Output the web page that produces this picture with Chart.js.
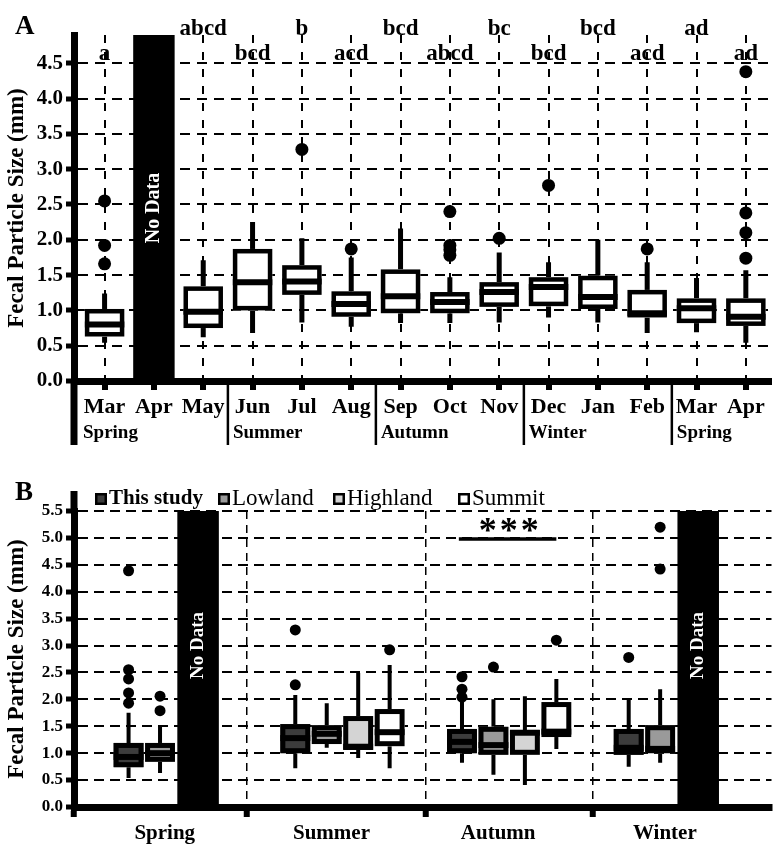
<!DOCTYPE html>
<html>
<head>
  <title>Fecal Particle Size</title>
  <meta charset="utf-8" />
  <script src="https://cdn.jsdelivr.net/npm/chart.js"></script>
  <style>
    body { margin: 0; background: #fff; }
    #wrap { position: relative; width: 777px; height: 846px; }
    #chartA { position: absolute; left: 0; top: 0; }
    #chartB { position: absolute; left: 0; top: 460px; }
  </style>
</head>
<body>
<div id="wrap">
  <canvas id="chartA" width="777" height="460"></canvas>
  <canvas id="chartB" width="777" height="386"></canvas>
</div>
<script>
// ---------- panel A : monthly ----------
const monthsA = ['Mar', 'Apr', 'May', 'Jun', 'Jul', 'Aug', 'Sep', 'Oct', 'Nov', 'Dec', 'Jan', 'Feb', 'Mar', 'Apr'];
const seasonsA = ['Spring', 'Summer', 'Autumn', 'Winter', 'Spring'];
const seasonStartA = [0, 3, 6, 9, 12];
const lettersA = ['a', '', 'abcd', 'bcd', 'b', 'acd', 'bcd', 'abcd', 'bc', 'bcd', 'bcd', 'acd', 'ad', 'ad'];
const lowA  = [0.54, null, 0.62, 0.68, 0.83, 0.77, 0.82, 0.82, 0.83, 0.90, 0.83, 0.68, 0.69, 0.54];
const q1A   = [0.63, null, 0.75, 1.00, 1.22, 0.91, 0.96, 0.96, 1.05, 1.06, 1.02, 0.90, 0.82, 0.78];
const medA  = [0.80, null, 0.98, 1.40, 1.41, 1.09, 1.20, 1.12, 1.26, 1.33, 1.19, 0.96, 1.03, 0.91];
const q3A   = [1.02, null, 1.34, 1.87, 1.64, 1.27, 1.58, 1.26, 1.40, 1.47, 1.49, 1.29, 1.17, 1.17];
const highA = [1.24, null, 1.71, 2.25, 2.02, 1.75, 2.16, 1.47, 1.82, 1.68, 2.00, 1.68, 1.46, 1.57];
const outA  = [[1.66, 1.92, 2.55], [], [], [], [3.28], [1.87], [], [1.78, 1.86, 1.92, 2.40], [2.02], [2.77], [], [1.87], [], [1.74, 2.10, 2.38, 4.38]];
const noDataA = [1];
const yTicksA = [0, 0.5, 1, 1.5, 2, 2.5, 3, 3.5, 4, 4.5];

// ---------- panel B : seasonal, by site ----------
const seasonsB = ['Spring', 'Summer', 'Autumn', 'Winter'];
const groupsB = ['This study', 'Lowland', 'Highland', 'Summit'];
// rows = group, columns = season
const lowB  = [[0.54, 0.72, 0.82, 0.75], [0.63, 1.10, 0.60, 0.82], [null, 0.91, 0.41, null], [null, 0.72, 1.08, null]];
const q1B   = [[0.74, 1.00, 1.00, 0.97], [0.84, 1.17, 0.97, 1.00], [null, 1.06, 0.97, null], [null, 1.13, 1.30, null]];
const medB  = [[0.93, 1.28, 1.21, 1.10], [1.00, 1.36, 1.15, 1.08], [null, 1.12, 1.38, null], [null, 1.39, 1.40, null]];
const q3B   = [[1.19, 1.54, 1.45, 1.45], [1.19, 1.52, 1.49, 1.52], [null, 1.69, 1.43, null], [null, 1.82, 1.95, null]];
const highB = [[1.75, 2.08, 1.95, 2.00], [1.50, 1.93, 2.00, 2.19], [null, 2.49, 2.06, null], [null, 2.64, 2.38, null]];
const outB  = [
  [[1.93, 2.12, 2.38, 2.55, 4.39], [2.27, 3.29], [2.04, 2.19, 2.42], [2.78]],
  [[1.79, 2.06], [], [2.60], [4.42, 5.20]],
  [[], [], [], []],
  [[], [2.92], [3.10], []]
];
const noDataB = [0, 3];
const sigLevelB = 4.98;
const yTicksB = [0, 0.5, 1, 1.5, 2, 2.5, 3, 3.5, 4, 4.5, 5, 5.5];

const SERIF = '"Liberation Serif", "Times New Roman", serif';
const fillsB = ['#3c3c3c', '#9a9a9a', '#d4d4d4', '#ffffff'];
const GROUP_STEP = 5.3;
Chart.defaults.color = '#000';

function drawBox(ctx, xs, ys, x, w, st, fill, lw) {
  const px = xs.getPixelForValue(x);
  const half = (xs.getPixelForValue(x + w / 2) - xs.getPixelForValue(x - w / 2)) / 2;
  const [lo, q1, med, q3, hi] = st.map(v => ys.getPixelForValue(v));
  ctx.save();
  ctx.strokeStyle = '#000';
  ctx.lineCap = 'butt';
  ctx.lineWidth = lw.whisker;
  ctx.beginPath();
  ctx.moveTo(px, q3); ctx.lineTo(px, hi);
  ctx.moveTo(px, q1); ctx.lineTo(px, lo);
  ctx.stroke();
  ctx.fillStyle = fill;
  ctx.fillRect(px - half, q3, half * 2, q1 - q3);
  ctx.lineWidth = lw.border;
  const b = lw.border / 2;
  ctx.strokeRect(px - half + b, q3 + b, half * 2 - lw.border, Math.max(q1 - q3 - lw.border, 0.5));
  ctx.lineWidth = lw.median;
  ctx.beginPath();
  ctx.moveTo(px - half, med); ctx.lineTo(px + half, med);
  ctx.stroke();
  ctx.restore();
}

function drawNoData(ctx, xs, ys, x0, x1, top, textY, size) {
  const left = xs.getPixelForValue(x0), right = xs.getPixelForValue(x1);
  const yt = ys.getPixelForValue(top), yb = ys.getPixelForValue(0);
  ctx.save();
  ctx.fillStyle = '#000';
  ctx.fillRect(left, yt, right - left, yb - yt);
  ctx.translate((left + right) / 2, ys.getPixelForValue(textY));
  ctx.rotate(-Math.PI / 2);
  ctx.fillStyle = '#fff';
  ctx.font = `bold ${size}px ${SERIF}`;
  ctx.textAlign = 'center';
  ctx.textBaseline = 'middle';
  ctx.fillText('No Data', 0, 0);
  ctx.restore();
}

// ---------- chart A ----------
const pointsA = [];
outA.forEach((arr, i) => arr.forEach(v => pointsA.push({ x: i, y: v })));

const panelAPlugin = {
  id: 'panelA',
  beforeDatasetsDraw(chart) {
    const { ctx, scales: { x, y } } = chart;
    noDataA.forEach(i => drawNoData(ctx, x, y, i - 0.42, i + 0.42, y.max, 2.45, 20));
    monthsA.forEach((m, i) => {
      if (q1A[i] == null) return;
      drawBox(ctx, x, y, i, 0.8, [lowA[i], q1A[i], medA[i], q3A[i], highA[i]], '#fff',
        { border: 4.5, median: 6, whisker: 5 });
    });
  },
  afterDraw(chart) {
    const { ctx, scales: { x }, chartArea } = chart;
    ctx.save();
    ctx.fillStyle = '#000';
    ctx.textAlign = 'center';
    ctx.font = `bold 23px ${SERIF}`;
    lettersA.forEach((t, i) => {
      if (!t) return;
      const high = i > 0 && i % 2 === 0;
      ctx.fillText(t, x.getPixelForValue(i), chartArea.top + (high ? 0 : 25));
    });
    ctx.strokeStyle = '#000';
    ctx.textAlign = 'left';
    ctx.font = `bold 19px ${SERIF}`;
    const yb = chartArea.bottom;
    seasonStartA.forEach((s, k) => {
      const first = k === 0;
      const px = first ? chartArea.left : x.getPixelForValue(s - 0.5);
      ctx.lineWidth = first ? 7 : 2.5;
      ctx.beginPath();
      ctx.moveTo(px, yb);
      ctx.lineTo(px, yb + 64);
      ctx.stroke();
      ctx.fillText(seasonsA[k], px + (first ? 9 : 5), yb + 57);
    });
    ctx.font = `bold 27px ${SERIF}`;
    ctx.fillText('A', 15, 34);
    ctx.restore();
  }
};

new Chart(document.getElementById('chartA'), {
  type: 'scatter',
  data: {
    datasets: [{
      data: pointsA,
      backgroundColor: '#000',
      borderWidth: 0,
      pointRadius: 6.5,
      pointHoverRadius: 6.5
    }]
  },
  options: {
    responsive: false,
    animation: false,
    events: [],
    layout: { padding: { top: 35, left: 0, right: 0, bottom: 0 } },
    plugins: { legend: { display: false }, tooltip: { enabled: false } },
    scales: {
      x: {
        type: 'linear',
        min: -0.62,
        max: 13.5,
        afterBuildTicks: s => { s.ticks = monthsA.map((m, i) => ({ value: i })); },
        afterFit: s => { s.height = 79; },
        ticks: {
          autoSkip: false,
          maxRotation: 0,
          padding: 4,
          font: { family: SERIF, size: 22, weight: 'bold' },
          callback: (v, i) => monthsA[i]
        },
        grid: { color: '#000', lineWidth: 2, tickLength: 9, tickWidth: 6, tickColor: '#000', tickBorderDash: [] },
        border: { color: '#000', width: 7, dash: [8, 9] }
      },
      y: {
        type: 'linear',
        min: 0,
        max: 4.9,
        afterBuildTicks: s => { s.ticks = yTicksA.map(v => ({ value: v })); },
        afterFit: s => { s.width = 74; },
        ticks: {
          padding: 3,
          font: { family: SERIF, size: 21, weight: 'bold' },
          callback: v => v.toFixed(1)
        },
        grid: { color: '#000', lineWidth: 2, tickLength: 8, tickWidth: 5, tickColor: '#000', tickBorderDash: [] },
        border: { color: '#000', width: 7, dash: [10, 7] },
        title: {
          display: true,
          text: 'Fecal Particle Size (mm)',
          font: { family: SERIF, size: 23, weight: 'bold' },
          padding: { top: 3, bottom: 0 }
        }
      }
    }
  },
  plugins: [panelAPlugin]
});

// ---------- chart B ----------
const pointsB = [];
outB.forEach((row, g) => row.forEach((arr, s) => arr.forEach(v => pointsB.push({ x: s * GROUP_STEP + g, y: v }))));

const ticksXB = [{ value: -1.735 }, { value: 3.75 }, { value: 9.45 }, { value: 14.75 }]
  .concat(seasonsB.map((n, s) => ({ value: s * GROUP_STEP + 1.15, season: s })))
  .sort((a, b) => a.value - b.value);
const isSeasonTick = c => c.tick && c.tick.season !== undefined;

const panelBPlugin = {
  id: 'panelB',
  beforeDatasetsDraw(chart) {
    const { ctx, scales: { x, y } } = chart;
    noDataB.forEach(s => {
      const g0 = s * GROUP_STEP;
      drawNoData(ctx, x, y, g0 + 1.55, g0 + 2.87, y.max, 3.0, 19);
    });
    groupsB.forEach((name, g) => {
      seasonsB.forEach((sn, s) => {
        if (q1B[g][s] == null) return;
        drawBox(ctx, x, y, s * GROUP_STEP + g, 0.95,
          [lowB[g][s], q1B[g][s], medB[g][s], q3B[g][s], highB[g][s]], fillsB[g],
          { border: 5, median: 6, whisker: 4 });
      });
    });
    // significance bar, autumn This study vs Summit
    const g0 = 2 * GROUP_STEP;
    const ly = y.getPixelForValue(sigLevelB);
    ctx.save();
    ctx.strokeStyle = '#000';
    ctx.lineWidth = 3.5;
    ctx.beginPath();
    ctx.moveTo(x.getPixelForValue(g0 - 0.1), ly);
    ctx.lineTo(x.getPixelForValue(g0 + 3), ly);
    ctx.stroke();
    ctx.fillStyle = '#000';
    ctx.font = `bold 36px ${SERIF}`;
    ctx.textAlign = 'center';
    if ('letterSpacing' in ctx) ctx.letterSpacing = '3px';
    ctx.fillText('***', x.getPixelForValue(g0 + 1.5) + 1, ly + 3);
    ctx.restore();
  },
  afterDraw(chart) {
    const { ctx, chartArea } = chart;
    ctx.save();
    ctx.strokeStyle = '#000';
    ctx.lineWidth = 7;
    ctx.beginPath();
    ctx.moveTo(chartArea.left, chartArea.top - 20);
    ctx.lineTo(chartArea.left, chartArea.top);
    ctx.stroke();
    // legend
    const lx = [95, 218, 333, 458];
    ctx.textBaseline = 'middle';
    ctx.textAlign = 'left';
    groupsB.forEach((name, g) => {
      ctx.fillStyle = '#000';
      ctx.fillRect(lx[g], 33, 12, 12);
      ctx.fillStyle = fillsB[g];
      ctx.fillRect(lx[g] + 2.5, 35.5, 7, 7);
      ctx.fillStyle = '#000';
      ctx.font = g === 0 ? `bold 21px ${SERIF}` : `23px ${SERIF}`;
      ctx.fillText(name, lx[g] + 14, 39);
    });
    ctx.textBaseline = 'alphabetic';
    ctx.font = `bold 27px ${SERIF}`;
    ctx.fillText('B', 15, 40);
    ctx.restore();
  }
};

new Chart(document.getElementById('chartB'), {
  type: 'scatter',
  data: {
    datasets: [{
      data: pointsB,
      backgroundColor: '#000',
      borderWidth: 0,
      pointRadius: 5.5,
      pointHoverRadius: 5.5
    }]
  },
  options: {
    responsive: false,
    animation: false,
    events: [],
    layout: { padding: { top: 51, left: 0, right: 0, bottom: 0 } },
    plugins: { legend: { display: false }, tooltip: { enabled: false } },
    scales: {
      x: {
        type: 'linear',
        min: -1.735,
        max: 20.44,
        afterBuildTicks: s => { s.ticks = ticksXB.map(t => Object.assign({}, t)); },
        afterFit: s => { s.height = 39; },
        ticks: {
          autoSkip: false,
          maxRotation: 0,
          padding: 4,
          font: { family: SERIF, size: 21, weight: 'bold' },
          callback: (v, i, ticks) => ticks[i].season !== undefined ? seasonsB[ticks[i].season] : ''
        },
        grid: {
          color: c => isSeasonTick(c) ? 'rgba(0,0,0,0)' : '#000',
          tickColor: c => isSeasonTick(c) ? 'rgba(0,0,0,0)' : '#000',
          lineWidth: 1.5, tickLength: 10, tickWidth: 6, tickBorderDash: []
        },
        border: { color: '#000', width: 7, dash: [8, 6] }
      },
      y: {
        type: 'linear',
        min: 0,
        max: 5.5,
        afterBuildTicks: s => { s.ticks = yTicksB.map(v => ({ value: v })); },
        afterFit: s => { s.width = 74; },
        ticks: {
          padding: 3,
          font: { family: SERIF, size: 17, weight: 'bold' },
          callback: v => v.toFixed(1)
        },
        grid: { color: '#000', lineWidth: 2, tickLength: 8, tickWidth: 5, tickColor: '#000', tickBorderDash: [] },
        border: { color: '#000', width: 7, dash: [10, 6] },
        title: {
          display: true,
          text: 'Fecal Particle Size (mm)',
          font: { family: SERIF, size: 23, weight: 'bold' },
          padding: { top: 3, bottom: 0 }
        }
      }
    }
  },
  plugins: [panelBPlugin]
});
</script>
</body>
</html>
